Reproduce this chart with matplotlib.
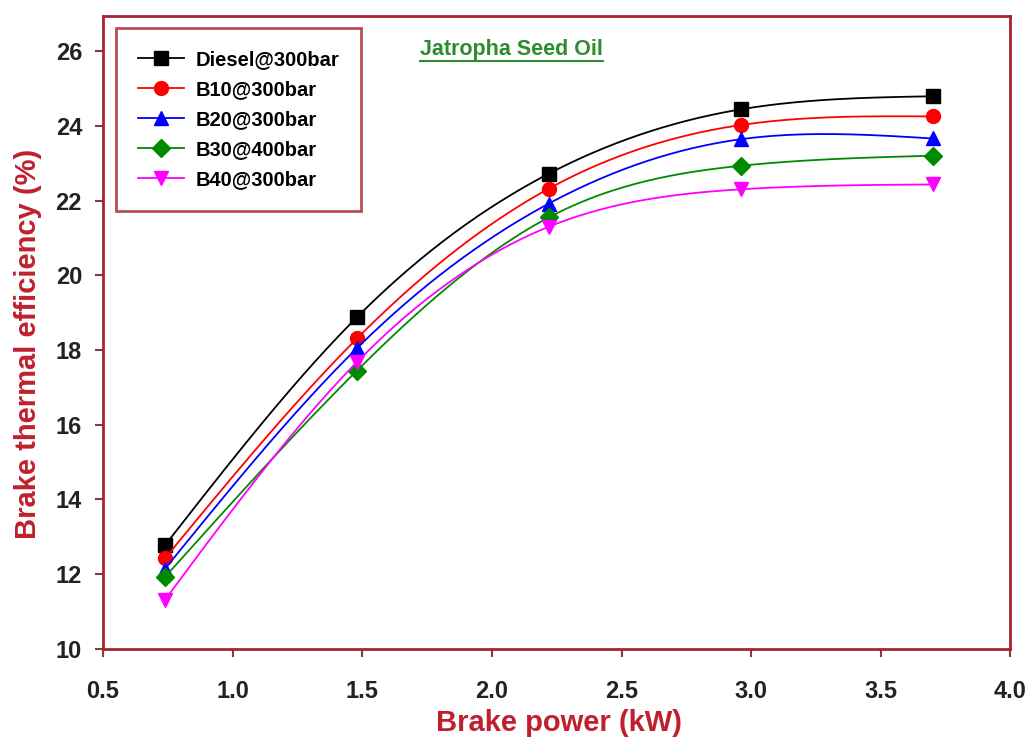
import matplotlib
matplotlib.use('Agg')
from matplotlib import pyplot as plt
from matplotlib.lines import Line2D
import numpy as np

plt.rcParams['font.family'] = ['Liberation Sans', 'DejaVu Sans']

# brake power (kW)
power = [0.74, 1.48, 2.22, 2.96, 3.70]

diesel_300 = [12.78, 18.88, 22.72, 24.44, 24.79]
b10_300 = [12.43, 18.31, 22.32, 24.02, 24.25]
b20_300 = [12.15, 18.05, 21.92, 23.64, 23.66]
b30_400 = [11.93, 17.45, 21.55, 22.93, 23.20]
b40_300 = [11.32, 17.68, 21.30, 22.30, 22.43]

names = ['Diesel@300bar', 'B10@300bar', 'B20@300bar', 'B30@400bar', 'B40@300bar']
colors = ['black', '#ff0000', '#0000ff', '#008a00', '#ff00ff']
markers = ['s', 'o', '^', 'D', 'v']

frame_col = '#a82232'
label_col = '#c0202d'


def natural_spline(x, y, n=200):
  # natural cubic spline, just for the smooth curve between the points
  x = np.asarray(x, float)
  y = np.asarray(y, float)
  k = len(x)
  h = np.diff(x)
  A = np.zeros((k, k))
  r = np.zeros(k)
  A[0, 0] = 1
  A[-1, -1] = 1
  for i in range(1, k - 1):
    A[i, i - 1] = h[i - 1]
    A[i, i] = 2 * (h[i - 1] + h[i])
    A[i, i + 1] = h[i]
    r[i] = 6 * ((y[i + 1] - y[i]) / h[i] - (y[i] - y[i - 1]) / h[i - 1])
  m = np.linalg.solve(A, r)
  xs = np.linspace(x[0], x[-1], n)
  j = np.clip(np.searchsorted(x, xs) - 1, 0, k - 2)
  t = xs - x[j]
  hj = h[j]
  a = (m[j + 1] - m[j]) / (6 * hj)
  b = m[j] / 2
  c = (y[j + 1] - y[j]) / hj - hj * (2 * m[j] + m[j + 1]) / 6
  ys = y[j] + c * t + b * t ** 2 + a * t ** 3
  return xs, ys


fig = plt.figure(figsize=(10.29, 7.40), dpi=100)
ax = fig.add_axes([0.100, 0.123, 0.882, 0.855])

series = [diesel_300, b10_300, b20_300, b30_400, b40_300]
handles = []
for vals, name, col, mk in zip(series, names, colors, markers):
  xs, ys = natural_spline(power, vals)
  ax.plot(xs, ys, color=col, lw=1.3)
  ms = 9 if mk == 'D' else 10
  ax.plot(power, vals, linestyle='none', marker=mk, color=col, markersize=ms)
  handles.append(Line2D([], [], color=col, lw=1.3, marker=mk, markersize=ms, label=name))

ax.set_xlim(0.5, 4.0)
ax.set_ylim(10, 26.93)
ax.set_xticks(np.arange(0.5, 4.01, 0.5))
ax.set_yticks(np.arange(10, 27, 2))
ax.set_xticklabels(['%.1f' % v for v in np.arange(0.5, 4.01, 0.5)])

for s in ax.spines.values():
  s.set_color(frame_col)
  s.set_linewidth(2)

ax.tick_params(direction='out', length=6, width=1.5, color='#8a3a3a',
               labelsize=17)
ax.tick_params(axis='x', pad=16)
ax.tick_params(axis='y', pad=9)
for lab in ax.get_xticklabels() + ax.get_yticklabels():
  lab.set_fontweight('bold')
  lab.set_color('#222222')

ax.set_xlabel('Brake power (kW)', fontsize=21, fontweight='bold', color=label_col)
ax.set_ylabel('Brake thermal efficiency (%)', fontsize=21, fontweight='bold', color=label_col)
ax.xaxis.set_label_coords(0.502, -0.117)
ax.xaxis.label.set_va('center')
ax.yaxis.set_label_coords(-0.083, 0.483)
ax.yaxis.label.set_va('center')

leg = ax.legend(handles=handles, loc='upper left', bbox_to_anchor=(0.014, 0.982),
                borderaxespad=0, fancybox=False, frameon=True,
                prop={'weight': 'bold', 'size': 14.5}, handlelength=2.3,
                handletextpad=0.55, labelspacing=0.55, borderpad=1.1)
leg.get_frame().set_edgecolor(frame_col)
leg.get_frame().set_linewidth(2)

title = ax.text(0.45, 0.948, 'Jatropha Seed Oil', transform=ax.transAxes,
                ha='center', va='center', fontsize=15.5, fontweight='bold', color='#2e8b2e')

# underline the title
fig.canvas.draw()
bb = title.get_window_extent().transformed(fig.transFigure.inverted())
fig.add_artist(Line2D([bb.x0, bb.x1], [bb.y0 - 0.002, bb.y0 - 0.002],
                      transform=fig.transFigure, color='#2e8b2e', lw=1.5))

fig.savefig('out.png', dpi=100)
plt.close(fig)
